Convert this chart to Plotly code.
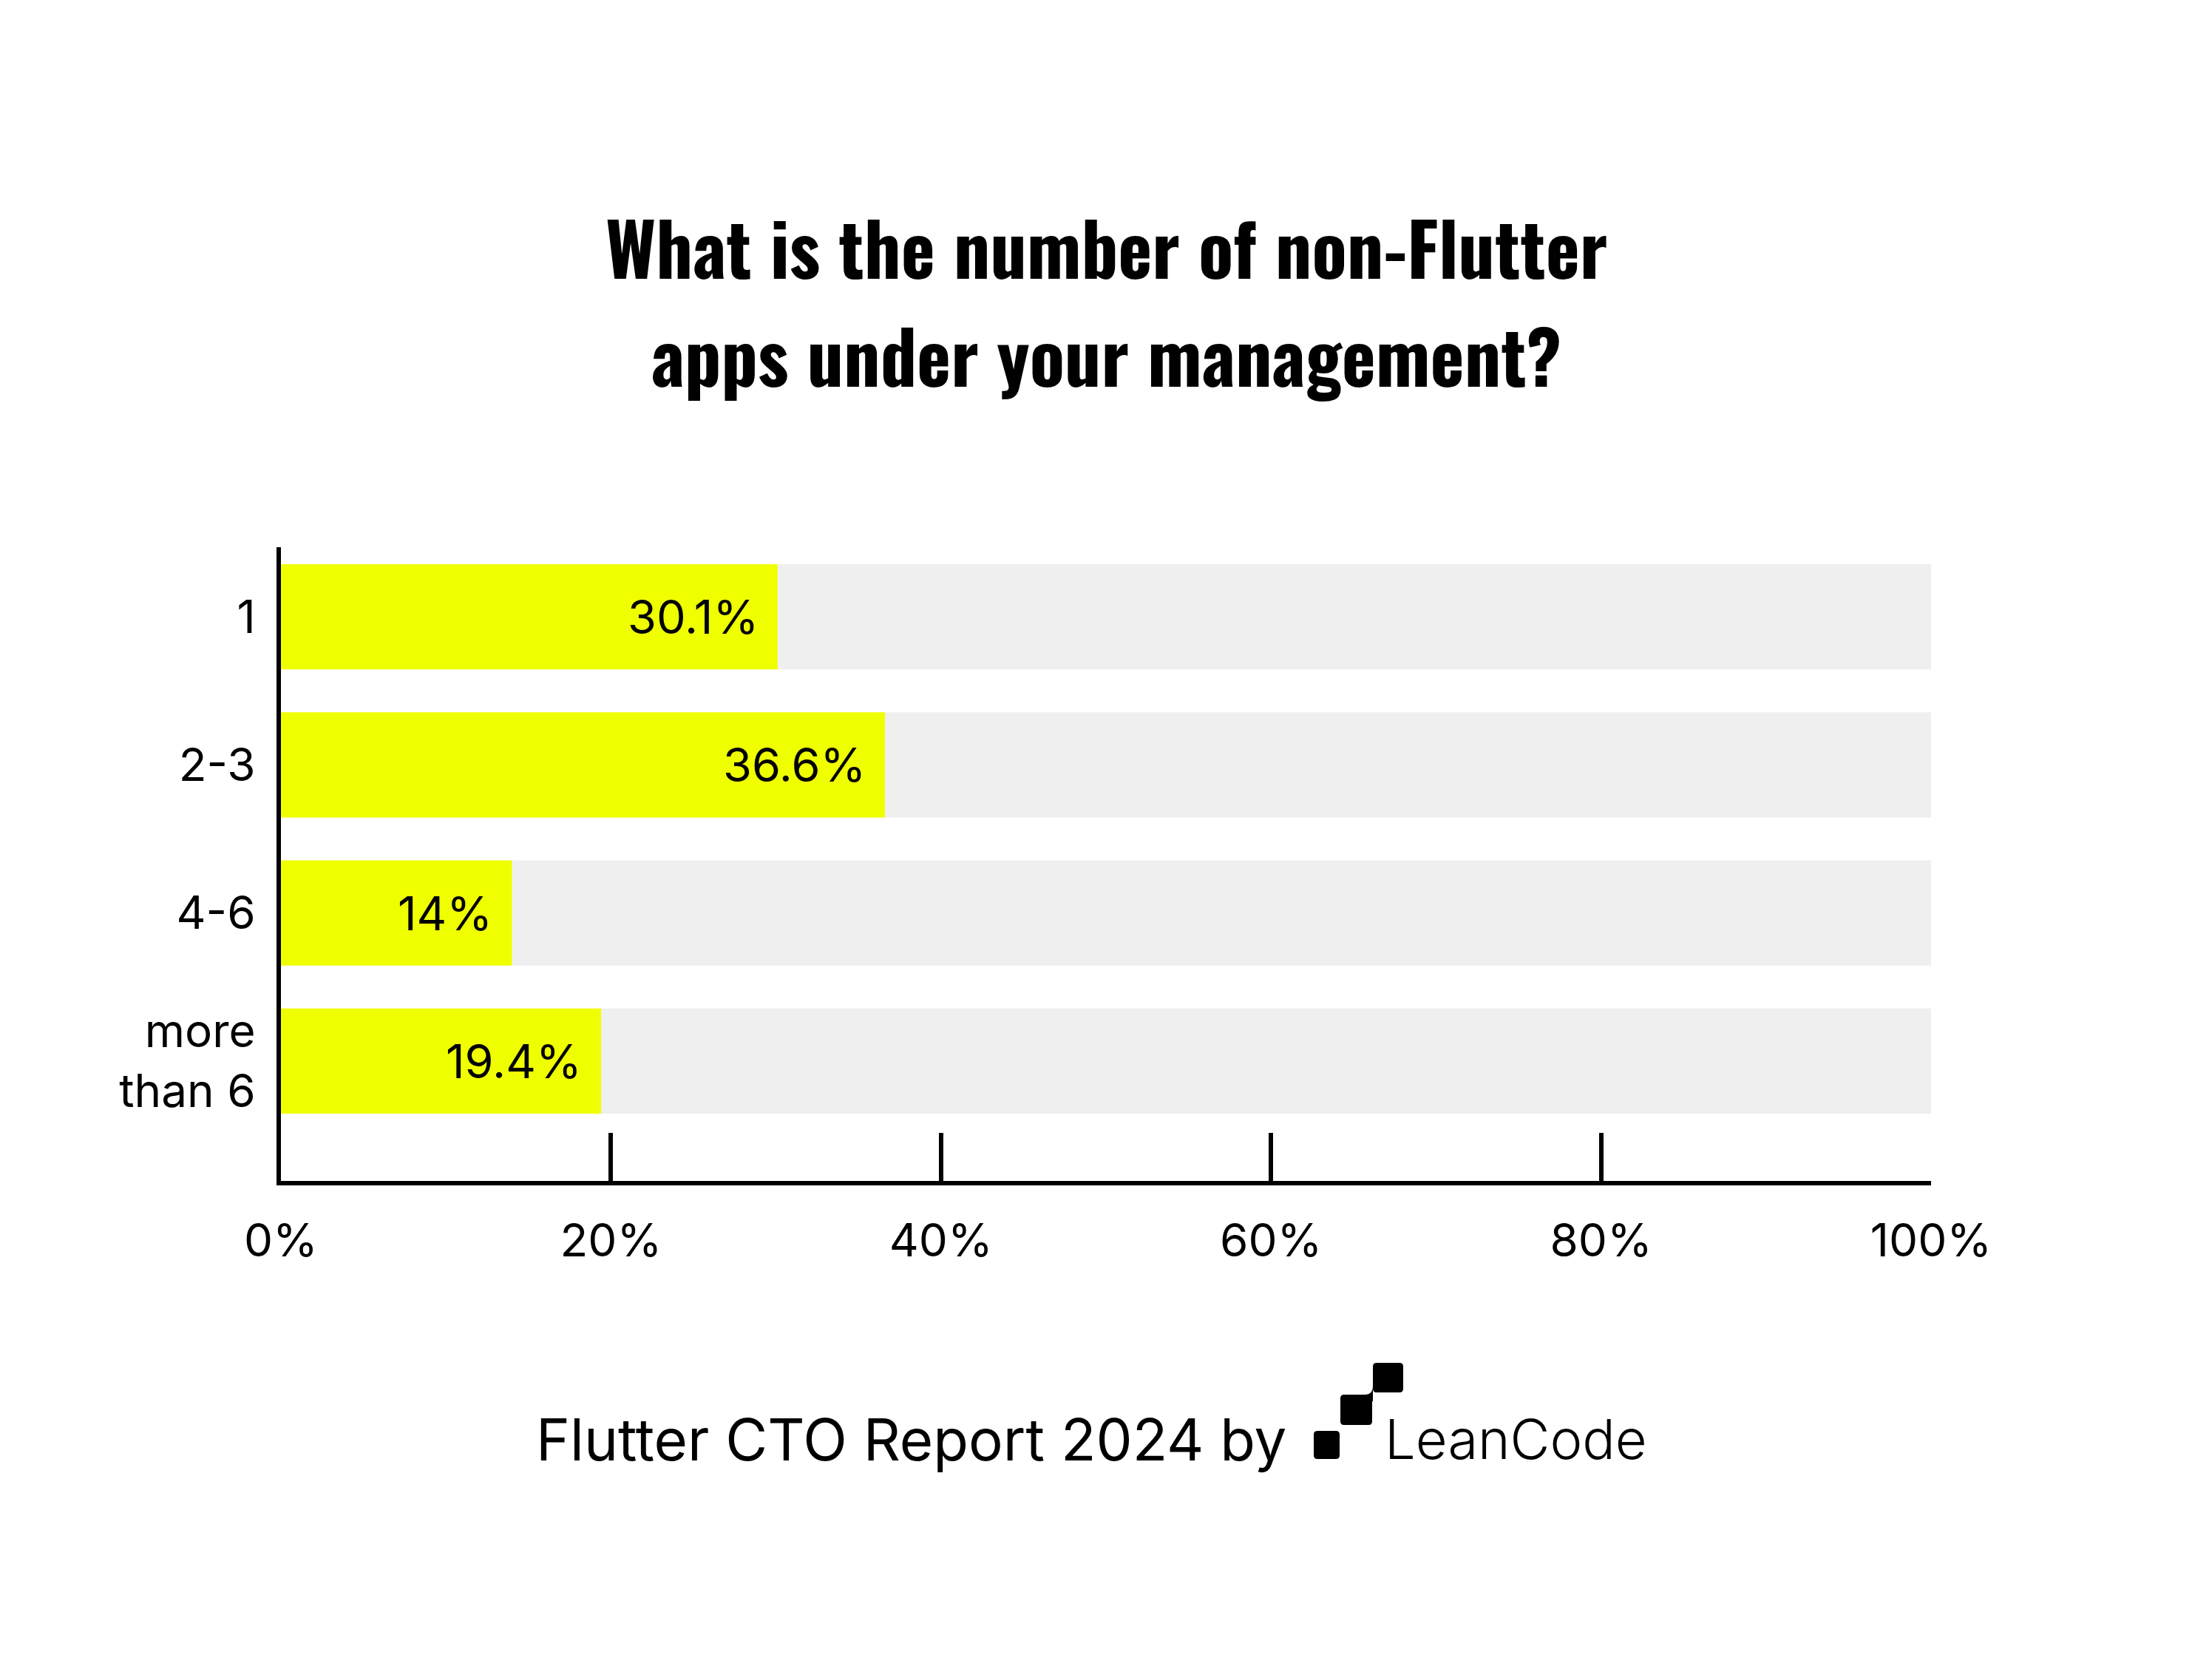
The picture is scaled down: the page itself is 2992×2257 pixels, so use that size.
import plotly.graph_objects as go

categories = ["1", "2-3", "4-6", "more<br>than 6"]
values = [30.1, 36.6, 14, 19.4]
value_labels = ["30.1%", "36.6%", "14%", "19.4%"]
full_values = [100, 100, 100, 100]
tick_vals = [0, 20, 40, 60, 80, 100]
tick_text = ["0%", "20%", "40%", "60%", "80%", "100%"]

W, H = 2992, 2257
L, R, T, B = 380, 380, 740, 660
PW, PH = W - L - R, H - T - B

YELLOW = "#F0FF00"
GREY = "#EFEFEF"
LABEL_FONT = "Inter, 'Noto Sans', sans-serif"
TITLE_FONT = "Oswald, 'Liberation Sans Narrow', 'DejaVu Sans Condensed', sans-serif"


def px(x):
    return (x - L) / PW


def py(y):
    return (H - B - y) / PH


fig = go.Figure()
fig.add_trace(go.Bar(y=categories, x=full_values, orientation="h",
                     marker=dict(color=GREY, line=dict(width=0)),
                     width=0.71, hoverinfo="skip", showlegend=False))
fig.add_trace(go.Bar(y=categories, x=values, orientation="h",
                     marker=dict(color=YELLOW, line=dict(width=0)),
                     width=0.71, showlegend=False))

annotations = []
for i, (v, t) in enumerate(zip(values, value_labels)):
    annotations.append(dict(x=v, y=i, xref="x", yref="y", text=t, showarrow=False,
                            xanchor="right", yanchor="middle", xshift=-24,
                            font=dict(family=LABEL_FONT, size=63, color="#000")))

annotations.append(dict(x=0.5, y=py(332), xref="paper", yref="paper",
                        text="What is the number of non-Flutter", showarrow=False,
                        xanchor="center", yanchor="middle",
                        font=dict(family=TITLE_FONT, size=98, color="#000", weight="bold")))
annotations.append(dict(x=0.5, y=py(479), xref="paper", yref="paper",
                        text="apps under your management?", showarrow=False,
                        xanchor="center", yanchor="middle",
                        font=dict(family=TITLE_FONT, size=98, color="#000", weight="bold")))

annotations.append(dict(x=px(1742), y=py(1946), xref="paper", yref="paper",
                        text="Flutter CTO Report 2024 by", showarrow=False,
                        xanchor="right", yanchor="middle",
                        font=dict(family=LABEL_FONT, size=78, color="#000")))
annotations.append(dict(x=px(1871), y=py(1946), xref="paper", yref="paper",
                        text="LeanCode", showarrow=False,
                        xanchor="left", yanchor="middle",
                        font=dict(family=LABEL_FONT, size=74, color="#000", weight=300)))


def rounded_rect(x0, y0, x1, y1, r=5):
    X0, X1 = px(x0), px(x1)
    Y0, Y1 = py(y0), py(y1)
    rx, ry = r / PW, r / PH
    return (f"M {X0+rx},{Y0} L {X1-rx},{Y0} Q {X1},{Y0} {X1},{Y0-ry} "
            f"L {X1},{Y1+ry} Q {X1},{Y1} {X1-rx},{Y1} L {X0+rx},{Y1} "
            f"Q {X0},{Y1} {X0},{Y1+ry} L {X0},{Y0-ry} Q {X0},{Y0} {X0+rx},{Y0} Z")


shapes = []
for (x0, y0, x1, y1) in [(1777, 1935, 1812, 1973), (1813, 1886, 1856, 1927), (1857, 1843, 1898, 1883)]:
    shapes.append(dict(type="path", xref="paper", yref="paper", path=rounded_rect(x0, y0, x1, y1),
                       fillcolor="#000", line=dict(width=0)))
shapes.append(dict(type="path", xref="paper", yref="paper",
                   path=(f"M {px(1846)},{py(1886)} Q {px(1857)},{py(1886)} {px(1857)},{py(1874)} "
                         f"L {px(1857)},{py(1895)} L {px(1846)},{py(1895)} Z"),
                   fillcolor="#000", line=dict(width=0)))

fig.update_layout(
    width=W, height=H,
    margin=dict(l=L, r=R, t=T, b=B, pad=0),
    paper_bgcolor="#FFFFFF", plot_bgcolor="#FFFFFF",
    barmode="overlay", bargap=0.29,
    annotations=annotations, shapes=shapes,
    xaxis=dict(range=[0, 100], tickvals=tick_vals, ticktext=tick_text,
               showgrid=False, zeroline=False, showline=True, linecolor="#000", linewidth=6,
               ticks="inside", ticklen=65, tickwidth=6, tickcolor="#000",
               ticklabelstandoff=22,
               tickfont=dict(family=LABEL_FONT, size=62, color="#000"), fixedrange=True),
    yaxis=dict(type="category", categoryorder="array", categoryarray=categories,
               range=[3.81, -0.47], showgrid=False, zeroline=False,
               showline=True, linecolor="#000", linewidth=6, ticks="",
               ticklabelstandoff=16,
               tickfont=dict(family=LABEL_FONT, size=62, color="#000"), fixedrange=True),
    font=dict(family=LABEL_FONT, color="#000"),
)

fig.write_html("out.html", config={"displayModeBar": False})
